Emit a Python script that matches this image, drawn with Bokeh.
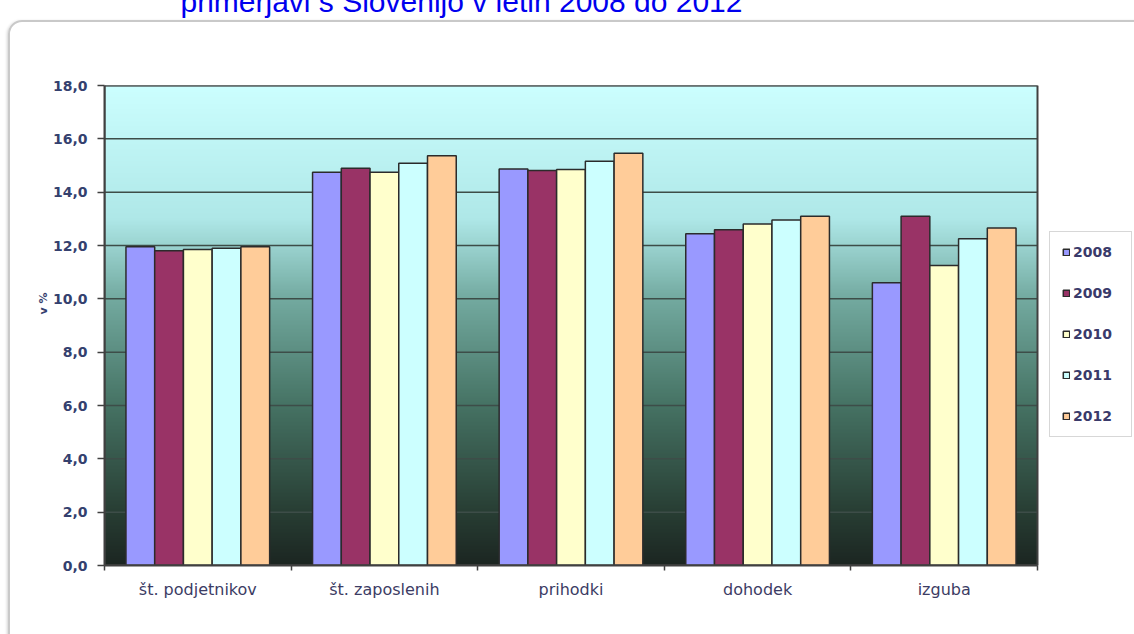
import numpy as np
from bokeh.plotting import figure
from bokeh.models import (Range1d, ColumnDataSource, FixedTicker,
                          CustomJSTickFormatter, Legend, LegendItem, Label, InlineStyleSheet)
from bokeh.transform import dodge
from bokeh.embed import file_html
from bokeh.resources import INLINE

# ---------------- data ----------------
categories = ["št. podjetnikov", "št. zaposlenih", "prihodki", "dohodek", "izguba"]
years = ["2008", "2009", "2010", "2011", "2012"]
v2008 = [11.95, 14.75, 14.87, 12.44, 10.60]
v2009 = [11.80, 14.90, 14.81, 12.59, 13.10]
v2010 = [11.85, 14.75, 14.85, 12.81, 11.25]
v2011 = [11.90, 15.08, 15.16, 12.96, 12.25]
v2012 = [11.95, 15.37, 15.46, 13.10, 12.66]
y_ticks = [0, 2, 4, 6, 8, 10, 12, 14, 16, 18]
title_text = "primerjavi s Slovenijo v letih 2008 do 2012"
y_label = "v %"

colors = ["#9999FF", "#993366", "#FFFFCC", "#CCFFFF", "#FFCC99"]
series = [v2008, v2009, v2010, v2011, v2012]

ncat = len(categories)
centers = [i + 0.5 for i in range(ncat)]
bounds_x = list(range(ncat + 1))
source = ColumnDataSource(dict(xc=centers, **{y: s for y, s in zip(years, series)}))

# layout: plot area is 933 px wide for the categories; frame continues right to hold the legend
plot_px, frame_px = 933, 1030
x_end = ncat * frame_px / plot_px

p = figure(x_range=Range1d(0, x_end), y_range=Range1d(0, 18),
           width=1134, height=634, output_backend="svg", toolbar_location=None,
           min_border_left=104, min_border_right=0, min_border_top=85, min_border_bottom=69)
p.background_fill_color = "white"
p.border_fill_color = "white"
p.outline_line_color = None
p.xgrid.visible = False
p.ygrid.visible = False

# chart frame with rounded corner (decoration, via CSS)
p.stylesheets = [InlineStyleSheet(css="""
:host { position: relative; overflow: hidden; }
:host::after { content: ""; position: absolute; left: 8px; top: 20px;
  width: 1200px; height: 700px; border: 2px solid #c9c9c9; border-radius: 14px;
  box-shadow: -1px 1px 3px rgba(0,0,0,0.18); pointer-events: none; }
""")]

# background gradient (decoration)
stops_y = [0, 2, 6, 10, 13, 18]
stops_c = [(28, 38, 34), (40, 62, 52), (70, 115, 100), (115, 170, 160), (175, 232, 232), (204, 255, 255)]
n = 360
ys = np.linspace(0, 18, n)
img = np.zeros((n, 1), dtype=np.uint32)
view = img.view(dtype=np.uint8).reshape((n, 1, 4))
for ch in range(3):
    view[:, 0, ch] = np.interp(ys, stops_y, [c[ch] for c in stops_c]).astype(np.uint8)
view[:, 0, 3] = 255
p.image_rgba(image=[img], x=0, y=0, dw=ncat, dh=18, level="image")

# horizontal gridlines over the plot area only
p.segment(x0=[0] * len(y_ticks), x1=[ncat] * len(y_ticks), y0=y_ticks, y1=y_ticks,
          line_color="#3d4d48", line_width=1.5)

bw = 0.154
items = []
for i, (yr, col) in enumerate(zip(years, colors)):
    r = p.vbar(x=dodge("xc", (i - 2) * bw), top=yr, width=bw,
               source=source, fill_color=col, line_color="#2b2b2b", line_width=1.5)
    items.append(LegendItem(label=yr, renderers=[r]))

# plot-area border
p.quad(left=[0], right=[ncat], bottom=[0], top=[18], fill_color=None,
       line_color="#404040", line_width=2)

# axes
p.yaxis.ticker = FixedTicker(ticks=y_ticks)
p.yaxis.formatter = CustomJSTickFormatter(code="return tick.toFixed(1).replace('.', ',');")
p.yaxis.major_label_text_font = "DejaVu Sans"
p.yaxis.major_label_text_font_style = "bold"
p.yaxis.major_label_text_font_size = "14px"
p.yaxis.major_label_text_color = "#34406e"
p.yaxis.axis_line_color = "#404040"
p.yaxis.axis_line_width = 2
p.yaxis.major_tick_line_color = "#404040"
p.yaxis.major_tick_line_width = 1.5
p.yaxis.major_tick_out = 7
p.yaxis.major_tick_in = 0
p.yaxis.minor_tick_line_color = None
p.yaxis.major_label_standoff = 10

p.xaxis.ticker = FixedTicker(ticks=centers, minor_ticks=bounds_x)
p.xaxis.major_label_overrides = {c: name for c, name in zip(centers, categories)}
p.xaxis.bounds = (0, ncat)
p.xaxis.axis_line_color = "#404040"
p.xaxis.axis_line_width = 2
p.xaxis.major_tick_line_color = None
p.xaxis.minor_tick_line_color = "#404040"
p.xaxis.minor_tick_line_width = 1.5
p.xaxis.minor_tick_out = 5
p.xaxis.minor_tick_in = 0
p.xaxis.major_label_text_font = "DejaVu Sans"
p.xaxis.major_label_text_font_size = "16px"
p.xaxis.major_label_text_color = "#3c3c64"
p.xaxis.major_label_standoff = 8

ylab = Label(x=7, y=262, x_units="screen", y_units="screen", text=y_label,
             angle=np.pi / 2, text_align="center", text_baseline="middle",
             text_font="DejaVu Sans", text_font_style="bold", text_font_size="11px",
             text_color="#34406e")
p.add_layout(ylab, "left")

title = Label(x=76, y=84, x_units="screen", y_units="screen", text=title_text,
              text_font="Liberation Sans", text_font_size="30px", text_color="#0000EE",
              text_baseline="alphabetic", text_align="left")
p.add_layout(title, "above")

legend = Legend(items=items, location=(945, 128), orientation="vertical")
legend.margin = 0
legend.padding = 12
legend.spacing = 25
legend.glyph_width = 8
legend.glyph_height = 8
legend.label_height = 10
legend.label_width = 46
legend.label_standoff = 3
legend.label_text_font = "DejaVu Sans"
legend.label_text_font_style = "bold"
legend.label_text_font_size = "14px"
legend.label_text_color = "#3a3a6a"
legend.border_line_color = "#b0b0b0"
legend.border_line_width = 1.5
legend.background_fill_color = "white"
legend.background_fill_alpha = 1
p.add_layout(legend)

open("out.html", "w").write(file_html(p, INLINE))
